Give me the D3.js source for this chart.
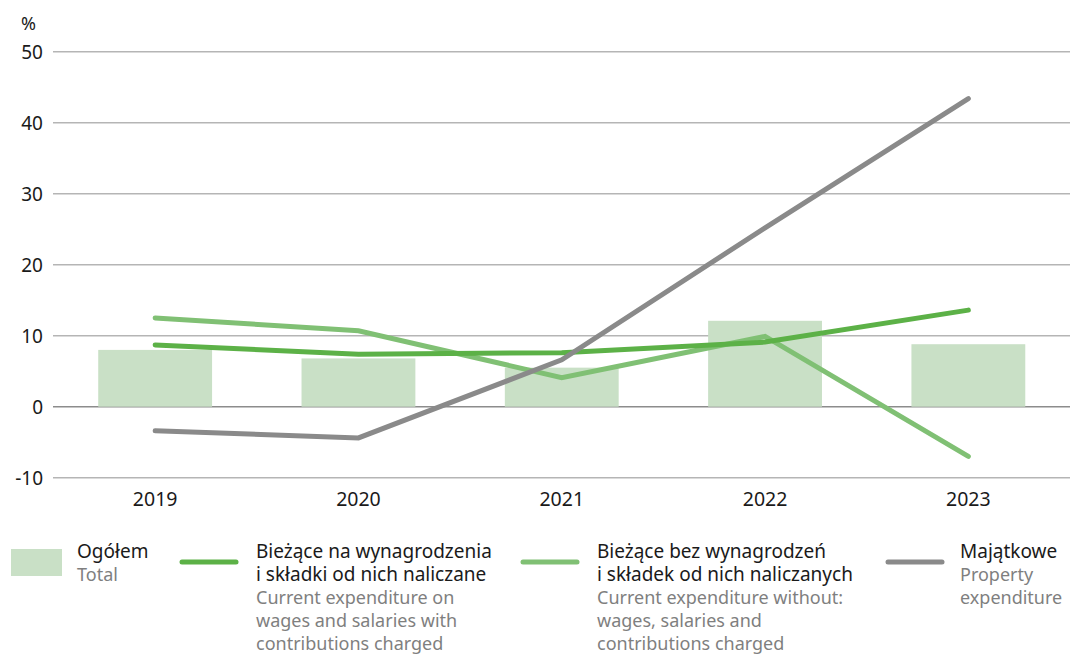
<!DOCTYPE html>
<html>
<head>
<meta charset="utf-8">
<script src="https://cdn.jsdelivr.net/npm/d3@7"></script>
<style>
  body { margin: 0; background: #fff; }
  svg text { font-family: "Noto Sans", sans-serif; }
</style>
</head>
<body>
<div id="chart"></div>
<script>
(function(d3) {
  'use strict';

  // dane
  var years = ['2019', '2020', '2021', '2022', '2023'];
  var total = [8.0, 6.8, 5.5, 12.1, 8.8];               // Ogółem (słupki)
  var wages = [8.7, 7.4, 7.6, 9.1, 13.6];               // Bieżące na wynagrodzenia
  var nonWages = [12.5, 10.7, 4.1, 9.9, -7.0];          // Bieżące bez wynagrodzeń
  var property = [-3.4, -4.4, 6.6, 25.2, 43.4];         // Majątkowe
  var yTicks = [-10, 0, 10, 20, 30, 40, 50];

  var width = 1070;
  var height = 654;

  var svg = d3.select('#chart')
    .append('svg')
      .attr('width', width)
      .attr('height', height);

  var x = d3.scaleBand()
    .domain(years)
    .range([53.5, 1070])
    .paddingInner(0.44)
    .paddingOuter(0.22);

  var y = d3.scaleLinear()
    .domain([-10, 50])
    .range([477.7, 51.7]);

  // siatka
  svg.append('g')
    .selectAll('line')
    .data(yTicks)
    .enter()
    .append('line')
      .attr('x1', 53)
      .attr('x2', width)
      .attr('y1', function(d) { return y(d); })
      .attr('y2', function(d) { return y(d); })
      .attr('stroke', function(d) { return d === 0 ? '#8c8c8c' : '#b5b5b5'; })
      .attr('stroke-width', 1.4);

  // oś Y (łącznik zamiast minusa, jak w oryginale)
  var yAxis = d3.axisLeft(y).tickValues(yTicks).tickSize(0).tickPadding(0)
    .tickFormat(function(d) { return String(d); });
  svg.append('g')
    .attr('transform', 'translate(43,0)')
    .call(yAxis)
    .call(function(g) { g.select('.domain').remove(); })
    .selectAll('text')
      .attr('font-family', '"Noto Sans", sans-serif')
      .attr('font-size', 19)
      .attr('fill', '#1a1a1a')
      .attr('dy', '0.36em');

  svg.append('text')
    .attr('x', 21)
    .attr('y', 30)
    .attr('font-size', 18)
    .attr('fill', '#1a1a1a')
    .text('%');

  // oś X
  var xAxis = d3.axisBottom(x).tickSize(0).tickPadding(0);
  svg.append('g')
    .attr('transform', 'translate(0,' + 490 + ')')
    .call(xAxis)
    .call(function(g) { g.select('.domain').remove(); })
    .selectAll('text')
      .attr('font-family', '"Noto Sans", sans-serif')
      .attr('font-size', 19.5)
      .attr('fill', '#1a1a1a')
      .attr('dy', '0.8em');

  // słupki
  svg.append('g')
    .selectAll('rect')
    .data(total)
    .enter()
    .append('rect')
      .attr('x', function(d, i) { return x(years[i]); })
      .attr('width', x.bandwidth())
      .attr('y', function(d) { return y(Math.max(0, d)); })
      .attr('height', function(d) { return Math.abs(y(d) - y(0)); })
      .attr('fill', '#c9e0c6');

  // linie
  var line = d3.line()
    .x(function(d, i) { return x(years[i]) + x.bandwidth() / 2; })
    .y(function(d) { return y(d); });

  var series = [
    { values: nonWages, color: '#80c074' },
    { values: wages, color: '#5cb147' },
    { values: property, color: '#8a8a8a' }
  ];

  svg.append('g')
    .selectAll('path')
    .data(series)
    .enter()
    .append('path')
      .attr('d', function(d) { return line(d.values); })
      .attr('fill', 'none')
      .attr('stroke', function(d) { return d.color; })
      .attr('stroke-width', 5)
      .attr('stroke-linecap', 'round')
      .attr('stroke-linejoin', 'miter');

  // legenda
  var legendItems = [
    { type: 'rect', color: '#c9e0c6', sx: 11, tx: 77,
      pl: ['Ogółem'], en: ['Total'] },
    { type: 'line', color: '#5cb147', sx: 182, tx: 256,
      pl: ['Bieżące na wynagrodzenia', 'i składki od nich naliczane'],
      en: ['Current expenditure on', 'wages and salaries with', 'contributions charged'] },
    { type: 'line', color: '#80c074', sx: 523, tx: 597,
      pl: ['Bieżące bez wynagrodzeń', 'i składek od nich naliczanych'],
      en: ['Current expenditure without:', 'wages, salaries and', 'contributions charged'] },
    { type: 'line', color: '#8a8a8a', sx: 888, tx: 960,
      pl: ['Majątkowe'], en: ['Property', 'expenditure'] }
  ];

  var lineHeight = 23;
  var legend = svg.selectAll('.legend')
    .data(legendItems)
    .enter()
    .append('g')
      .attr('class', 'legend');

  legend.each(function(d) {
    var g = d3.select(this);
    if (d.type === 'rect') {
      g.append('rect')
        .attr('x', d.sx).attr('y', 549)
        .attr('width', 51).attr('height', 27)
        .attr('fill', d.color);
    } else {
      g.append('line')
        .attr('x1', d.sx).attr('x2', d.sx + 54)
        .attr('y1', 562).attr('y2', 562)
        .attr('stroke', d.color)
        .attr('stroke-width', 5)
        .attr('stroke-linecap', 'round');
    }
    var lines = d.pl.map(function(t) { return { t: t, c: '#1a1a1a', s: 19 }; })
      .concat(d.en.map(function(t) { return { t: t, c: '#7f7f7f', s: 18 }; }));
    g.selectAll('text')
      .data(lines)
      .enter()
      .append('text')
        .attr('x', d.tx)
        .attr('y', function(l, i) { return 558 + i * lineHeight; })
        .attr('font-size', function(l) { return l.s; })
        .attr('fill', function(l) { return l.c; })
        .text(function(l) { return l.t; });
  });
})(window.d3);
</script>
</body>
</html>
